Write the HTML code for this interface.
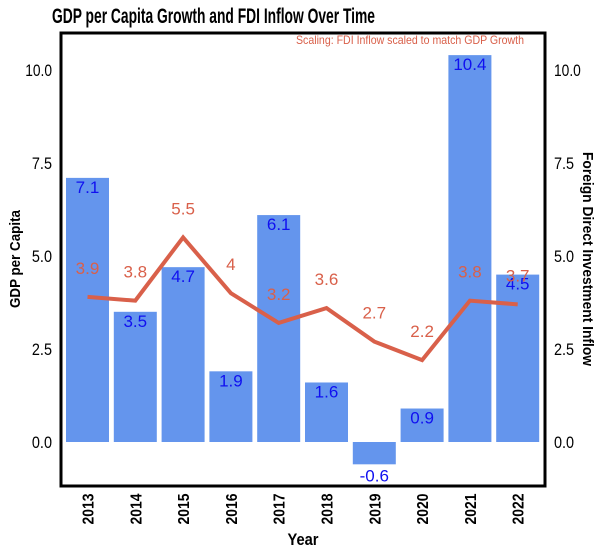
<!DOCTYPE html>
<html><head><meta charset="utf-8"><style>
body{margin:0;background:#fff;width:606px;height:555px;overflow:hidden}
svg text{font-family:"Liberation Sans Narrow","Liberation Sans",sans-serif}
</style></head><body>
<svg id="c" width="606" height="555" xmlns="http://www.w3.org/2000/svg">
<text x="52" y="23" font-size="21" font-weight="bold" textLength="323" lengthAdjust="spacingAndGlyphs">GDP per Capita Growth and FDI Inflow Over Time</text>
<g id="plot"></g>
<rect x="61" y="33" width="484" height="453" fill="none" stroke="#000" stroke-width="3"/>
<text x="524" y="44" font-size="12" fill="#d9604a" text-anchor="end" textLength="228" lengthAdjust="spacingAndGlyphs">Scaling: FDI Inflow scaled to match GDP Growth</text>
<text transform="translate(20,259) rotate(-90)" font-size="15" font-weight="bold" text-anchor="middle" textLength="98" lengthAdjust="spacingAndGlyphs">GDP per Capita</text>
<text transform="translate(583,259) rotate(90)" font-size="15" font-weight="bold" text-anchor="middle" textLength="214" lengthAdjust="spacingAndGlyphs">Foreign Direct Investment Inflow</text>
<text x="303" y="545" font-size="17" font-weight="bold" text-anchor="middle" textLength="31" lengthAdjust="spacingAndGlyphs">Year</text>
</svg>
<script>
const years=["2013","2014","2015","2016","2017","2018","2019","2020","2021","2022"];
const gdp=[7.1,3.5,4.7,1.9,6.1,1.6,-0.6,0.9,10.4,4.5];
const fdi=[3.9,3.8,5.5,4,3.2,3.6,2.7,2.2,3.8,3.7];
const ticks=[0,2.5,5,7.5,10];
const NS="http://www.w3.org/2000/svg";
const svg=document.getElementById('c'),g=document.getElementById('plot');
const y=v=>442-v*37.2;
const x=i=>87.5+i*47.8;
function mk(t,a,p){const e=document.createElementNS(NS,t);for(const k in a)e.setAttribute(k,a[k]);(p||g).appendChild(e);return e;}
ticks.forEach(t=>{
 const s=t.toFixed(1),w=s.length*6.7;
 const a=mk('text',{x:52-w,y:y(t)+6,'font-size':17,textLength:w,lengthAdjust:'spacingAndGlyphs'},svg);a.textContent=s;
 
 
 const b=mk('text',{x:554,y:y(t)+6,'font-size':17,textLength:w,lengthAdjust:'spacingAndGlyphs'},svg);b.textContent=s;
 
 
});
years.forEach((yr,i)=>{
 const v=gdp[i],top=Math.min(y(v),y(0)),h=Math.abs(y(v)-y(0));
 const r=mk('rect',{x:x(i)-21.5,y:top,width:43,height:h,fill:'#6495ed'});
 
 
 const ly=v>=0?y(v)+15:y(v)+17;
 const t=mk('text',{x:x(i),y:ly,'font-size':17,fill:'#1010f0','text-anchor':'middle',style:'font-family:"Liberation Sans",sans-serif'});
 t.textContent=v;
 
 
 const xl=mk('text',{transform:`translate(${x(i)+6},509) rotate(-90)`,'font-size':16,'font-weight':'bold','text-anchor':'middle',textLength:31,lengthAdjust:'spacingAndGlyphs'},svg);
 xl.textContent=yr;
 
 
});
const pl=mk('polyline',{points:fdi.map((v,i)=>x(i)+','+y(v)).join(' '),fill:'none',stroke:'#d9604a','stroke-width':4});


fdi.forEach((v,i)=>{
 const t=mk('text',{x:x(i),y:y(v)-23,'font-size':17,fill:'#d9604a','text-anchor':'middle',style:'font-family:"Liberation Sans",sans-serif'});
 t.textContent=v;
 
 
});
</script>
</body></html>
